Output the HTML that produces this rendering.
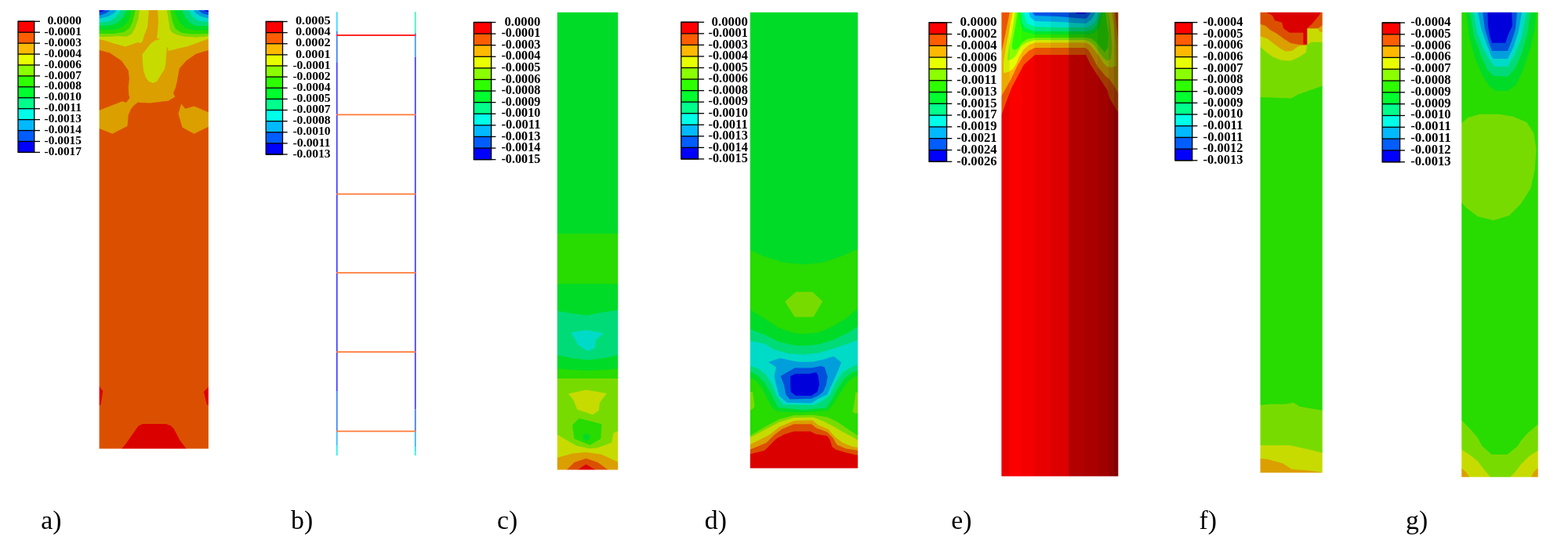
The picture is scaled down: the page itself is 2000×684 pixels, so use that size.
<!DOCTYPE html>
<html lang="en">
<head>
<meta charset="utf-8">
<title>Contour plots a) to g)</title>
<style>
html,body{margin:0;padding:0;background:#fff;}
body{width:2000px;height:684px;overflow:hidden;font-family:"Liberation Serif",serif;}
svg{display:block;}
</style>
</head>
<body>
<svg width="2000" height="684" viewBox="0 0 2000 684">
<rect x="0" y="0" width="2000" height="684" fill="#ffffff"/>
<g class="legend">
<rect x="23.00" y="27.30" width="20.75" height="13.93" fill="#ff0000"/>
<rect x="23.00" y="41.23" width="20.75" height="13.92" fill="#ff5d00"/>
<rect x="23.00" y="55.15" width="20.75" height="13.93" fill="#ffb900"/>
<rect x="23.00" y="69.08" width="20.75" height="13.92" fill="#e8ff00"/>
<rect x="23.00" y="83.00" width="20.75" height="13.92" fill="#8bff00"/>
<rect x="23.00" y="96.92" width="20.75" height="13.92" fill="#2eff00"/>
<rect x="23.00" y="110.85" width="20.75" height="13.92" fill="#00ff2e"/>
<rect x="23.00" y="124.77" width="20.75" height="13.92" fill="#00ff8b"/>
<rect x="23.00" y="138.70" width="20.75" height="13.93" fill="#00ffe8"/>
<rect x="23.00" y="152.62" width="20.75" height="13.93" fill="#00b9ff"/>
<rect x="23.00" y="166.55" width="20.75" height="13.92" fill="#005dff"/>
<rect x="23.00" y="180.47" width="20.75" height="13.93" fill="#0000ff"/>
<g stroke="#000" stroke-width="1.3" fill="none">
<rect x="23.00" y="27.30" width="20.75" height="167.10"/>
<line x1="23.00" y1="27.30" x2="51.00" y2="27.30"/>
<line x1="23.00" y1="41.23" x2="51.00" y2="41.23"/>
<line x1="23.00" y1="55.15" x2="51.00" y2="55.15"/>
<line x1="23.00" y1="69.08" x2="51.00" y2="69.08"/>
<line x1="23.00" y1="83.00" x2="51.00" y2="83.00"/>
<line x1="23.00" y1="96.92" x2="51.00" y2="96.92"/>
<line x1="23.00" y1="110.85" x2="51.00" y2="110.85"/>
<line x1="23.00" y1="124.77" x2="51.00" y2="124.77"/>
<line x1="23.00" y1="138.70" x2="51.00" y2="138.70"/>
<line x1="23.00" y1="152.62" x2="51.00" y2="152.62"/>
<line x1="23.00" y1="166.55" x2="51.00" y2="166.55"/>
<line x1="23.00" y1="180.47" x2="51.00" y2="180.47"/>
<line x1="23.00" y1="194.40" x2="51.00" y2="194.40"/>
</g>
<g font-family="'Liberation Serif', serif" font-weight="bold" font-size="15.30" text-anchor="end" fill="#000">
<text x="104.00" y="30.90" textLength="43.60" lengthAdjust="spacingAndGlyphs">0.0000</text>
<text x="104.00" y="44.83" textLength="47.40" lengthAdjust="spacingAndGlyphs">-0.0001</text>
<text x="104.00" y="58.75" textLength="47.40" lengthAdjust="spacingAndGlyphs">-0.0003</text>
<text x="104.00" y="72.67" textLength="47.40" lengthAdjust="spacingAndGlyphs">-0.0004</text>
<text x="104.00" y="86.60" textLength="47.40" lengthAdjust="spacingAndGlyphs">-0.0006</text>
<text x="104.00" y="100.52" textLength="47.40" lengthAdjust="spacingAndGlyphs">-0.0007</text>
<text x="104.00" y="114.45" textLength="47.40" lengthAdjust="spacingAndGlyphs">-0.0008</text>
<text x="104.00" y="128.38" textLength="47.40" lengthAdjust="spacingAndGlyphs">-0.0010</text>
<text x="104.00" y="142.30" textLength="47.40" lengthAdjust="spacingAndGlyphs">-0.0011</text>
<text x="104.00" y="156.22" textLength="47.40" lengthAdjust="spacingAndGlyphs">-0.0013</text>
<text x="104.00" y="170.15" textLength="47.40" lengthAdjust="spacingAndGlyphs">-0.0014</text>
<text x="104.00" y="184.07" textLength="47.40" lengthAdjust="spacingAndGlyphs">-0.0015</text>
<text x="104.00" y="198.00" textLength="47.40" lengthAdjust="spacingAndGlyphs">-0.0017</text>
</g></g>
<g class="legend">
<rect x="339.20" y="27.50" width="21.30" height="14.12" fill="#ff0000"/>
<rect x="339.20" y="41.62" width="21.30" height="14.12" fill="#ff5d00"/>
<rect x="339.20" y="55.75" width="21.30" height="14.12" fill="#ffb900"/>
<rect x="339.20" y="69.88" width="21.30" height="14.12" fill="#e8ff00"/>
<rect x="339.20" y="84.00" width="21.30" height="14.12" fill="#8bff00"/>
<rect x="339.20" y="98.12" width="21.30" height="14.12" fill="#2eff00"/>
<rect x="339.20" y="112.25" width="21.30" height="14.12" fill="#00ff2e"/>
<rect x="339.20" y="126.38" width="21.30" height="14.12" fill="#00ff8b"/>
<rect x="339.20" y="140.50" width="21.30" height="14.12" fill="#00ffe8"/>
<rect x="339.20" y="154.62" width="21.30" height="14.12" fill="#00b9ff"/>
<rect x="339.20" y="168.75" width="21.30" height="14.12" fill="#005dff"/>
<rect x="339.20" y="182.88" width="21.30" height="14.12" fill="#0000ff"/>
<g stroke="#000" stroke-width="1.3" fill="none">
<rect x="339.20" y="27.50" width="21.30" height="169.50"/>
<line x1="339.20" y1="27.50" x2="366.70" y2="27.50"/>
<line x1="339.20" y1="41.62" x2="366.70" y2="41.62"/>
<line x1="339.20" y1="55.75" x2="366.70" y2="55.75"/>
<line x1="339.20" y1="69.88" x2="366.70" y2="69.88"/>
<line x1="339.20" y1="84.00" x2="366.70" y2="84.00"/>
<line x1="339.20" y1="98.12" x2="366.70" y2="98.12"/>
<line x1="339.20" y1="112.25" x2="366.70" y2="112.25"/>
<line x1="339.20" y1="126.38" x2="366.70" y2="126.38"/>
<line x1="339.20" y1="140.50" x2="366.70" y2="140.50"/>
<line x1="339.20" y1="154.62" x2="366.70" y2="154.62"/>
<line x1="339.20" y1="168.75" x2="366.70" y2="168.75"/>
<line x1="339.20" y1="182.88" x2="366.70" y2="182.88"/>
<line x1="339.20" y1="197.00" x2="366.70" y2="197.00"/>
</g>
<g font-family="'Liberation Serif', serif" font-weight="bold" font-size="15.40" text-anchor="end" fill="#000">
<text x="421.60" y="31.20" textLength="44.60" lengthAdjust="spacingAndGlyphs">0.0005</text>
<text x="421.60" y="45.33" textLength="44.60" lengthAdjust="spacingAndGlyphs">0.0004</text>
<text x="421.60" y="59.45" textLength="44.60" lengthAdjust="spacingAndGlyphs">0.0002</text>
<text x="421.60" y="73.58" textLength="44.60" lengthAdjust="spacingAndGlyphs">0.0001</text>
<text x="421.60" y="87.70" textLength="48.20" lengthAdjust="spacingAndGlyphs">-0.0001</text>
<text x="421.60" y="101.83" textLength="48.20" lengthAdjust="spacingAndGlyphs">-0.0002</text>
<text x="421.60" y="115.95" textLength="48.20" lengthAdjust="spacingAndGlyphs">-0.0004</text>
<text x="421.60" y="130.07" textLength="48.20" lengthAdjust="spacingAndGlyphs">-0.0005</text>
<text x="421.60" y="144.20" textLength="48.20" lengthAdjust="spacingAndGlyphs">-0.0007</text>
<text x="421.60" y="158.32" textLength="48.20" lengthAdjust="spacingAndGlyphs">-0.0008</text>
<text x="421.60" y="172.45" textLength="48.20" lengthAdjust="spacingAndGlyphs">-0.0010</text>
<text x="421.60" y="186.57" textLength="48.20" lengthAdjust="spacingAndGlyphs">-0.0011</text>
<text x="421.60" y="200.70" textLength="48.20" lengthAdjust="spacingAndGlyphs">-0.0013</text>
</g></g>
<g class="legend">
<rect x="604.30" y="28.50" width="22.30" height="14.59" fill="#ff0000"/>
<rect x="604.30" y="43.09" width="22.30" height="14.59" fill="#ff5d00"/>
<rect x="604.30" y="57.68" width="22.30" height="14.59" fill="#ffb900"/>
<rect x="604.30" y="72.28" width="22.30" height="14.59" fill="#e8ff00"/>
<rect x="604.30" y="86.87" width="22.30" height="14.59" fill="#8bff00"/>
<rect x="604.30" y="101.46" width="22.30" height="14.59" fill="#2eff00"/>
<rect x="604.30" y="116.05" width="22.30" height="14.59" fill="#00ff2e"/>
<rect x="604.30" y="130.64" width="22.30" height="14.59" fill="#00ff8b"/>
<rect x="604.30" y="145.23" width="22.30" height="14.59" fill="#00ffe8"/>
<rect x="604.30" y="159.82" width="22.30" height="14.59" fill="#00b9ff"/>
<rect x="604.30" y="174.42" width="22.30" height="14.59" fill="#005dff"/>
<rect x="604.30" y="189.01" width="22.30" height="14.59" fill="#0000ff"/>
<g stroke="#000" stroke-width="1.3" fill="none">
<rect x="604.30" y="28.50" width="22.30" height="175.10"/>
<line x1="604.30" y1="28.50" x2="632.40" y2="28.50"/>
<line x1="604.30" y1="43.09" x2="632.40" y2="43.09"/>
<line x1="604.30" y1="57.68" x2="632.40" y2="57.68"/>
<line x1="604.30" y1="72.28" x2="632.40" y2="72.28"/>
<line x1="604.30" y1="86.87" x2="632.40" y2="86.87"/>
<line x1="604.30" y1="101.46" x2="632.40" y2="101.46"/>
<line x1="604.30" y1="116.05" x2="632.40" y2="116.05"/>
<line x1="604.30" y1="130.64" x2="632.40" y2="130.64"/>
<line x1="604.30" y1="145.23" x2="632.40" y2="145.23"/>
<line x1="604.30" y1="159.82" x2="632.40" y2="159.82"/>
<line x1="604.30" y1="174.42" x2="632.40" y2="174.42"/>
<line x1="604.30" y1="189.01" x2="632.40" y2="189.01"/>
<line x1="604.30" y1="203.60" x2="632.40" y2="203.60"/>
</g>
<g font-family="'Liberation Serif', serif" font-weight="bold" font-size="15.70" text-anchor="end" fill="#000">
<text x="689.40" y="32.70" textLength="46.00" lengthAdjust="spacingAndGlyphs">0.0000</text>
<text x="689.40" y="47.29" textLength="50.00" lengthAdjust="spacingAndGlyphs">-0.0001</text>
<text x="689.40" y="61.88" textLength="50.00" lengthAdjust="spacingAndGlyphs">-0.0003</text>
<text x="689.40" y="76.48" textLength="50.00" lengthAdjust="spacingAndGlyphs">-0.0004</text>
<text x="689.40" y="91.07" textLength="50.00" lengthAdjust="spacingAndGlyphs">-0.0005</text>
<text x="689.40" y="105.66" textLength="50.00" lengthAdjust="spacingAndGlyphs">-0.0006</text>
<text x="689.40" y="120.25" textLength="50.00" lengthAdjust="spacingAndGlyphs">-0.0008</text>
<text x="689.40" y="134.84" textLength="50.00" lengthAdjust="spacingAndGlyphs">-0.0009</text>
<text x="689.40" y="149.43" textLength="50.00" lengthAdjust="spacingAndGlyphs">-0.0010</text>
<text x="689.40" y="164.02" textLength="50.00" lengthAdjust="spacingAndGlyphs">-0.0011</text>
<text x="689.40" y="178.62" textLength="50.00" lengthAdjust="spacingAndGlyphs">-0.0013</text>
<text x="689.40" y="193.21" textLength="50.00" lengthAdjust="spacingAndGlyphs">-0.0014</text>
<text x="689.40" y="207.80" textLength="50.00" lengthAdjust="spacingAndGlyphs">-0.0015</text>
</g></g>
<g class="legend">
<rect x="868.80" y="28.30" width="21.70" height="14.55" fill="#ff0000"/>
<rect x="868.80" y="42.85" width="21.70" height="14.55" fill="#ff5d00"/>
<rect x="868.80" y="57.40" width="21.70" height="14.55" fill="#ffb900"/>
<rect x="868.80" y="71.95" width="21.70" height="14.55" fill="#e8ff00"/>
<rect x="868.80" y="86.50" width="21.70" height="14.55" fill="#8bff00"/>
<rect x="868.80" y="101.05" width="21.70" height="14.55" fill="#2eff00"/>
<rect x="868.80" y="115.60" width="21.70" height="14.55" fill="#00ff2e"/>
<rect x="868.80" y="130.15" width="21.70" height="14.55" fill="#00ff8b"/>
<rect x="868.80" y="144.70" width="21.70" height="14.55" fill="#00ffe8"/>
<rect x="868.80" y="159.25" width="21.70" height="14.55" fill="#00b9ff"/>
<rect x="868.80" y="173.80" width="21.70" height="14.55" fill="#005dff"/>
<rect x="868.80" y="188.35" width="21.70" height="14.55" fill="#0000ff"/>
<g stroke="#000" stroke-width="1.3" fill="none">
<rect x="868.80" y="28.30" width="21.70" height="174.60"/>
<line x1="868.80" y1="28.30" x2="898.10" y2="28.30"/>
<line x1="868.80" y1="42.85" x2="898.10" y2="42.85"/>
<line x1="868.80" y1="57.40" x2="898.10" y2="57.40"/>
<line x1="868.80" y1="71.95" x2="898.10" y2="71.95"/>
<line x1="868.80" y1="86.50" x2="898.10" y2="86.50"/>
<line x1="868.80" y1="101.05" x2="898.10" y2="101.05"/>
<line x1="868.80" y1="115.60" x2="898.10" y2="115.60"/>
<line x1="868.80" y1="130.15" x2="898.10" y2="130.15"/>
<line x1="868.80" y1="144.70" x2="898.10" y2="144.70"/>
<line x1="868.80" y1="159.25" x2="898.10" y2="159.25"/>
<line x1="868.80" y1="173.80" x2="898.10" y2="173.80"/>
<line x1="868.80" y1="188.35" x2="898.10" y2="188.35"/>
<line x1="868.80" y1="202.90" x2="898.10" y2="202.90"/>
</g>
<g font-family="'Liberation Serif', serif" font-weight="bold" font-size="15.70" text-anchor="end" fill="#000">
<text x="953.80" y="32.60" textLength="46.30" lengthAdjust="spacingAndGlyphs">0.0000</text>
<text x="953.80" y="47.15" textLength="50.30" lengthAdjust="spacingAndGlyphs">-0.0001</text>
<text x="953.80" y="61.70" textLength="50.30" lengthAdjust="spacingAndGlyphs">-0.0003</text>
<text x="953.80" y="76.25" textLength="50.30" lengthAdjust="spacingAndGlyphs">-0.0004</text>
<text x="953.80" y="90.80" textLength="50.30" lengthAdjust="spacingAndGlyphs">-0.0005</text>
<text x="953.80" y="105.35" textLength="50.30" lengthAdjust="spacingAndGlyphs">-0.0006</text>
<text x="953.80" y="119.90" textLength="50.30" lengthAdjust="spacingAndGlyphs">-0.0008</text>
<text x="953.80" y="134.45" textLength="50.30" lengthAdjust="spacingAndGlyphs">-0.0009</text>
<text x="953.80" y="149.00" textLength="50.30" lengthAdjust="spacingAndGlyphs">-0.0010</text>
<text x="953.80" y="163.55" textLength="50.30" lengthAdjust="spacingAndGlyphs">-0.0011</text>
<text x="953.80" y="178.10" textLength="50.30" lengthAdjust="spacingAndGlyphs">-0.0013</text>
<text x="953.80" y="192.65" textLength="50.30" lengthAdjust="spacingAndGlyphs">-0.0014</text>
<text x="953.80" y="207.20" textLength="50.30" lengthAdjust="spacingAndGlyphs">-0.0015</text>
</g></g>
<g class="legend">
<rect x="1185.00" y="28.75" width="22.60" height="14.79" fill="#ff0000"/>
<rect x="1185.00" y="43.54" width="22.60" height="14.79" fill="#ff5d00"/>
<rect x="1185.00" y="58.33" width="22.60" height="14.79" fill="#ffb900"/>
<rect x="1185.00" y="73.12" width="22.60" height="14.79" fill="#e8ff00"/>
<rect x="1185.00" y="87.92" width="22.60" height="14.79" fill="#8bff00"/>
<rect x="1185.00" y="102.71" width="22.60" height="14.79" fill="#2eff00"/>
<rect x="1185.00" y="117.50" width="22.60" height="14.79" fill="#00ff2e"/>
<rect x="1185.00" y="132.29" width="22.60" height="14.79" fill="#00ff8b"/>
<rect x="1185.00" y="147.08" width="22.60" height="14.79" fill="#00ffe8"/>
<rect x="1185.00" y="161.88" width="22.60" height="14.79" fill="#00b9ff"/>
<rect x="1185.00" y="176.67" width="22.60" height="14.79" fill="#005dff"/>
<rect x="1185.00" y="191.46" width="22.60" height="14.79" fill="#0000ff"/>
<g stroke="#000" stroke-width="1.3" fill="none">
<rect x="1185.00" y="28.75" width="22.60" height="177.50"/>
<line x1="1185.00" y1="28.75" x2="1214.30" y2="28.75"/>
<line x1="1185.00" y1="43.54" x2="1214.30" y2="43.54"/>
<line x1="1185.00" y1="58.33" x2="1214.30" y2="58.33"/>
<line x1="1185.00" y1="73.12" x2="1214.30" y2="73.12"/>
<line x1="1185.00" y1="87.92" x2="1214.30" y2="87.92"/>
<line x1="1185.00" y1="102.71" x2="1214.30" y2="102.71"/>
<line x1="1185.00" y1="117.50" x2="1214.30" y2="117.50"/>
<line x1="1185.00" y1="132.29" x2="1214.30" y2="132.29"/>
<line x1="1185.00" y1="147.08" x2="1214.30" y2="147.08"/>
<line x1="1185.00" y1="161.88" x2="1214.30" y2="161.88"/>
<line x1="1185.00" y1="176.67" x2="1214.30" y2="176.67"/>
<line x1="1185.00" y1="191.46" x2="1214.30" y2="191.46"/>
<line x1="1185.00" y1="206.25" x2="1214.30" y2="206.25"/>
</g>
<g font-family="'Liberation Serif', serif" font-weight="bold" font-size="15.80" text-anchor="end" fill="#000">
<text x="1271.60" y="33.15" textLength="47.00" lengthAdjust="spacingAndGlyphs">0.0000</text>
<text x="1271.60" y="47.94" textLength="51.30" lengthAdjust="spacingAndGlyphs">-0.0002</text>
<text x="1271.60" y="62.73" textLength="51.30" lengthAdjust="spacingAndGlyphs">-0.0004</text>
<text x="1271.60" y="77.53" textLength="51.30" lengthAdjust="spacingAndGlyphs">-0.0006</text>
<text x="1271.60" y="92.32" textLength="51.30" lengthAdjust="spacingAndGlyphs">-0.0009</text>
<text x="1271.60" y="107.11" textLength="51.30" lengthAdjust="spacingAndGlyphs">-0.0011</text>
<text x="1271.60" y="121.90" textLength="51.30" lengthAdjust="spacingAndGlyphs">-0.0013</text>
<text x="1271.60" y="136.69" textLength="51.30" lengthAdjust="spacingAndGlyphs">-0.0015</text>
<text x="1271.60" y="151.48" textLength="51.30" lengthAdjust="spacingAndGlyphs">-0.0017</text>
<text x="1271.60" y="166.28" textLength="51.30" lengthAdjust="spacingAndGlyphs">-0.0019</text>
<text x="1271.60" y="181.07" textLength="51.30" lengthAdjust="spacingAndGlyphs">-0.0021</text>
<text x="1271.60" y="195.86" textLength="51.30" lengthAdjust="spacingAndGlyphs">-0.0024</text>
<text x="1271.60" y="210.65" textLength="51.30" lengthAdjust="spacingAndGlyphs">-0.0026</text>
</g></g>
<g class="legend">
<rect x="1498.80" y="28.60" width="21.90" height="14.68" fill="#ff0000"/>
<rect x="1498.80" y="43.28" width="21.90" height="14.68" fill="#ff5d00"/>
<rect x="1498.80" y="57.96" width="21.90" height="14.68" fill="#ffb900"/>
<rect x="1498.80" y="72.64" width="21.90" height="14.68" fill="#e8ff00"/>
<rect x="1498.80" y="87.32" width="21.90" height="14.68" fill="#8bff00"/>
<rect x="1498.80" y="102.00" width="21.90" height="14.68" fill="#2eff00"/>
<rect x="1498.80" y="116.68" width="21.90" height="14.68" fill="#00ff2e"/>
<rect x="1498.80" y="131.35" width="21.90" height="14.68" fill="#00ff8b"/>
<rect x="1498.80" y="146.03" width="21.90" height="14.68" fill="#00ffe8"/>
<rect x="1498.80" y="160.71" width="21.90" height="14.68" fill="#00b9ff"/>
<rect x="1498.80" y="175.39" width="21.90" height="14.68" fill="#005dff"/>
<rect x="1498.80" y="190.07" width="21.90" height="14.68" fill="#0000ff"/>
<g stroke="#000" stroke-width="1.3" fill="none">
<rect x="1498.80" y="28.60" width="21.90" height="176.15"/>
<line x1="1498.80" y1="28.60" x2="1527.40" y2="28.60"/>
<line x1="1498.80" y1="43.28" x2="1527.40" y2="43.28"/>
<line x1="1498.80" y1="57.96" x2="1527.40" y2="57.96"/>
<line x1="1498.80" y1="72.64" x2="1527.40" y2="72.64"/>
<line x1="1498.80" y1="87.32" x2="1527.40" y2="87.32"/>
<line x1="1498.80" y1="102.00" x2="1527.40" y2="102.00"/>
<line x1="1498.80" y1="116.68" x2="1527.40" y2="116.68"/>
<line x1="1498.80" y1="131.35" x2="1527.40" y2="131.35"/>
<line x1="1498.80" y1="146.03" x2="1527.40" y2="146.03"/>
<line x1="1498.80" y1="160.71" x2="1527.40" y2="160.71"/>
<line x1="1498.80" y1="175.39" x2="1527.40" y2="175.39"/>
<line x1="1498.80" y1="190.07" x2="1527.40" y2="190.07"/>
<line x1="1498.80" y1="204.75" x2="1527.40" y2="204.75"/>
</g>
<g font-family="'Liberation Serif', serif" font-weight="bold" font-size="15.70" text-anchor="end" fill="#000">
<text x="1585.40" y="33.00" textLength="50.80" lengthAdjust="spacingAndGlyphs">-0.0004</text>
<text x="1585.40" y="47.68" textLength="50.80" lengthAdjust="spacingAndGlyphs">-0.0005</text>
<text x="1585.40" y="62.36" textLength="50.80" lengthAdjust="spacingAndGlyphs">-0.0006</text>
<text x="1585.40" y="77.04" textLength="50.80" lengthAdjust="spacingAndGlyphs">-0.0006</text>
<text x="1585.40" y="91.72" textLength="50.80" lengthAdjust="spacingAndGlyphs">-0.0007</text>
<text x="1585.40" y="106.40" textLength="50.80" lengthAdjust="spacingAndGlyphs">-0.0008</text>
<text x="1585.40" y="121.08" textLength="50.80" lengthAdjust="spacingAndGlyphs">-0.0009</text>
<text x="1585.40" y="135.75" textLength="50.80" lengthAdjust="spacingAndGlyphs">-0.0009</text>
<text x="1585.40" y="150.43" textLength="50.80" lengthAdjust="spacingAndGlyphs">-0.0010</text>
<text x="1585.40" y="165.11" textLength="50.80" lengthAdjust="spacingAndGlyphs">-0.0011</text>
<text x="1585.40" y="179.79" textLength="50.80" lengthAdjust="spacingAndGlyphs">-0.0011</text>
<text x="1585.40" y="194.47" textLength="50.80" lengthAdjust="spacingAndGlyphs">-0.0012</text>
<text x="1585.40" y="209.15" textLength="50.80" lengthAdjust="spacingAndGlyphs">-0.0013</text>
</g></g>
<g class="legend">
<rect x="1763.10" y="29.00" width="22.50" height="14.81" fill="#ff0000"/>
<rect x="1763.10" y="43.81" width="22.50" height="14.81" fill="#ff5d00"/>
<rect x="1763.10" y="58.62" width="22.50" height="14.81" fill="#ffb900"/>
<rect x="1763.10" y="73.42" width="22.50" height="14.81" fill="#e8ff00"/>
<rect x="1763.10" y="88.23" width="22.50" height="14.81" fill="#8bff00"/>
<rect x="1763.10" y="103.04" width="22.50" height="14.81" fill="#2eff00"/>
<rect x="1763.10" y="117.85" width="22.50" height="14.81" fill="#00ff2e"/>
<rect x="1763.10" y="132.66" width="22.50" height="14.81" fill="#00ff8b"/>
<rect x="1763.10" y="147.47" width="22.50" height="14.81" fill="#00ffe8"/>
<rect x="1763.10" y="162.27" width="22.50" height="14.81" fill="#00b9ff"/>
<rect x="1763.10" y="177.08" width="22.50" height="14.81" fill="#005dff"/>
<rect x="1763.10" y="191.89" width="22.50" height="14.81" fill="#0000ff"/>
<g stroke="#000" stroke-width="1.3" fill="none">
<rect x="1763.10" y="29.00" width="22.50" height="177.70"/>
<line x1="1763.10" y1="29.00" x2="1792.00" y2="29.00"/>
<line x1="1763.10" y1="43.81" x2="1792.00" y2="43.81"/>
<line x1="1763.10" y1="58.62" x2="1792.00" y2="58.62"/>
<line x1="1763.10" y1="73.42" x2="1792.00" y2="73.42"/>
<line x1="1763.10" y1="88.23" x2="1792.00" y2="88.23"/>
<line x1="1763.10" y1="103.04" x2="1792.00" y2="103.04"/>
<line x1="1763.10" y1="117.85" x2="1792.00" y2="117.85"/>
<line x1="1763.10" y1="132.66" x2="1792.00" y2="132.66"/>
<line x1="1763.10" y1="147.47" x2="1792.00" y2="147.47"/>
<line x1="1763.10" y1="162.27" x2="1792.00" y2="162.27"/>
<line x1="1763.10" y1="177.08" x2="1792.00" y2="177.08"/>
<line x1="1763.10" y1="191.89" x2="1792.00" y2="191.89"/>
<line x1="1763.10" y1="206.70" x2="1792.00" y2="206.70"/>
</g>
<g font-family="'Liberation Serif', serif" font-weight="bold" font-size="15.80" text-anchor="end" fill="#000">
<text x="1850.70" y="33.00" textLength="51.50" lengthAdjust="spacingAndGlyphs">-0.0004</text>
<text x="1850.70" y="47.81" textLength="51.50" lengthAdjust="spacingAndGlyphs">-0.0005</text>
<text x="1850.70" y="62.62" textLength="51.50" lengthAdjust="spacingAndGlyphs">-0.0006</text>
<text x="1850.70" y="77.42" textLength="51.50" lengthAdjust="spacingAndGlyphs">-0.0006</text>
<text x="1850.70" y="92.23" textLength="51.50" lengthAdjust="spacingAndGlyphs">-0.0007</text>
<text x="1850.70" y="107.04" textLength="51.50" lengthAdjust="spacingAndGlyphs">-0.0008</text>
<text x="1850.70" y="121.85" textLength="51.50" lengthAdjust="spacingAndGlyphs">-0.0009</text>
<text x="1850.70" y="136.66" textLength="51.50" lengthAdjust="spacingAndGlyphs">-0.0009</text>
<text x="1850.70" y="151.47" textLength="51.50" lengthAdjust="spacingAndGlyphs">-0.0010</text>
<text x="1850.70" y="166.27" textLength="51.50" lengthAdjust="spacingAndGlyphs">-0.0011</text>
<text x="1850.70" y="181.08" textLength="51.50" lengthAdjust="spacingAndGlyphs">-0.0011</text>
<text x="1850.70" y="195.89" textLength="51.50" lengthAdjust="spacingAndGlyphs">-0.0012</text>
<text x="1850.70" y="210.70" textLength="51.50" lengthAdjust="spacingAndGlyphs">-0.0013</text>
</g></g>
<g font-family="'Liberation Serif', serif" font-size="33.8" fill="#000">
<text x="52.30" y="675">a)</text>
<text x="371.00" y="675">b)</text>
<text x="634.00" y="675">c)</text>
<text x="898.80" y="675">d)</text>
<text x="1213.30" y="675">e)</text>
<text x="1529.50" y="675">f)</text>
<text x="1793.00" y="675">g)</text>
</g>
<g id="pa"><clipPath id="ca"><rect x="126" y="12" width="140" height="561"/></clipPath><g clip-path="url(#ca)">
<rect x="123.60" y="9.90" width="145.30" height="565.70" fill="#db5000"/>
<polygon fill="#db9f00" points="126.00,12.00 267.00,12.00 267.00,63.75 250.00,68.75 237.50,77.50 228.75,87.50 226.00,103.00 224.00,111.70 221.00,118.70 223.40,123.40 214.60,128.70 205.30,129.80 191.20,131.60 179.50,131.00 176.00,130.60 170.20,135.10 166.70,139.80 163.70,146.80 162.60,160.80 143.30,170.80 126.00,163.70 126.00,141.00 156.10,129.20 160.80,131.00 165.50,125.10 164.30,121.00 163.70,111.70 164.90,100.00 163.75,90.00 155.00,77.50 140.00,67.50 126.00,63.75"/>
<polygon fill="#db9f00" points="231.25,132.50 236.25,138.75 247.50,135.50 267.00,143.75 267.00,161.25 247.50,170.75 232.50,162.50 227.50,145.00"/>
<polygon fill="#c7db00" points="178.00,12.00 190.00,12.00 188.00,35.00 184.00,45.00 182.00,52.00 180.00,55.00 176.00,54.00 170.00,56.00 160.00,59.50 145.00,55.50 135.00,52.00 126.00,50.00 126.00,47.00 140.00,46.50 150.00,46.00 162.00,46.50 168.00,43.00 172.00,36.00 176.00,25.00"/>
<polygon fill="#c7db00" points="201.00,12.00 213.00,12.00 215.00,25.00 217.00,38.00 220.00,41.50 225.00,44.00 235.00,46.50 250.00,47.50 267.00,46.00 267.00,49.50 256.00,53.00 240.00,59.00 225.00,62.50 215.00,65.00 214.00,61.00 213.00,60.00 212.00,70.00 211.50,80.00 210.00,88.00 205.00,96.00 200.00,104.00 195.00,106.00 190.00,104.00 186.00,99.00 183.00,90.00 182.00,80.00 181.50,69.00 185.00,65.00 192.00,56.00 197.00,52.00 205.00,49.50 200.00,49.00 201.00,40.00 202.00,28.00"/>
<polygon fill="#78db00" points="126.00,12.00 178.00,12.00 176.00,25.00 172.00,36.00 168.00,43.00 162.00,46.50 150.00,46.00 140.00,46.50 126.00,47.00"/>
<polygon fill="#28db00" points="126.00,12.00 173.00,12.00 169.00,28.00 165.00,36.00 158.00,41.00 145.00,43.00 126.00,43.00"/>
<polygon fill="#00db28" points="126.00,12.00 168.00,12.00 166.00,20.00 162.00,29.00 155.00,35.00 145.00,38.00 126.00,38.50"/>
<polygon fill="#00db78" points="126.00,12.00 162.00,12.00 157.00,22.00 150.00,29.00 140.00,32.50 126.00,33.00"/>
<polygon fill="#00dbc7" points="126.00,12.00 155.00,12.00 148.00,22.00 140.00,27.00 126.00,29.00"/>
<polygon fill="#009fdb" points="126.00,12.00 150.00,12.00 145.00,17.00 138.00,21.00 126.00,24.00"/>
<polygon fill="#0050db" points="126.00,12.00 142.00,12.00 135.00,17.00 126.00,20.00"/>
<polygon fill="#0000db" points="126.00,12.00 135.00,12.00 132.00,14.00 126.00,16.00"/>
<polygon fill="#78db00" points="267.00,12.00 213.00,12.00 215.00,25.00 217.00,38.00 220.00,41.50 225.00,44.00 235.00,46.50 250.00,47.50 267.00,46.00"/>
<polygon fill="#28db00" points="267.00,12.00 217.00,12.00 220.00,28.00 224.00,37.00 232.00,42.00 245.00,43.50 267.00,43.00"/>
<polygon fill="#00db28" points="267.00,12.00 222.00,12.00 225.00,20.00 230.00,30.00 237.00,36.00 248.00,38.50 267.00,38.50"/>
<polygon fill="#00db78" points="267.00,12.00 232.00,12.00 236.00,22.00 242.00,29.00 250.00,33.00 267.00,33.00"/>
<polygon fill="#00dbc7" points="267.00,12.00 240.00,12.00 246.00,22.00 254.00,27.00 267.00,28.00"/>
<polygon fill="#009fdb" points="267.00,12.00 246.00,12.00 250.00,17.00 256.00,21.00 267.00,23.50"/>
<polygon fill="#0050db" points="267.00,12.00 252.00,12.00 258.00,17.00 267.00,19.50"/>
<polygon fill="#0000db" points="267.00,12.00 258.00,12.00 262.00,14.00 267.00,16.00"/>
<polygon fill="#db0000" points="155.00,573.00 160.00,567.00 176.50,543.50 182.00,541.00 211.80,540.90 218.10,543.60 221.70,547.20 229.80,562.50 238.00,573.00"/>
<polygon fill="#db0000" points="126.00,492.50 131.25,498.75 128.75,516.25 126.00,517.50"/>
<polygon fill="#db0000" points="267.00,492.50 260.00,500.00 263.75,516.25 267.00,517.50"/>
</g>
<g fill="#fff">
<rect x="125" y="11" width="1.60" height="563"/>
<rect x="265.90" y="11" width="1.10" height="563"/>
<rect x="125" y="11" width="142" height="1.90"/>
<rect x="125" y="572.60" width="142" height="1.40"/>
</g></g>
<g id="pb" fill="none" stroke-width="1.7">
<line x1="429.75" y1="15.20" x2="429.75" y2="40.00" stroke="#38d8ff"/>
<line x1="429.75" y1="40.00" x2="429.75" y2="80.00" stroke="#3a7cff"/>
<line x1="429.75" y1="80.00" x2="429.75" y2="499.00" stroke="#3a3aff"/>
<line x1="429.75" y1="499.00" x2="429.75" y2="550.30" stroke="#3a80ff"/>
<line x1="429.75" y1="550.30" x2="429.75" y2="568.00" stroke="#38b8ff"/>
<line x1="429.75" y1="568.00" x2="429.75" y2="581.30" stroke="#20f0f0"/>
<line x1="529.75" y1="15.20" x2="529.75" y2="42.00" stroke="#30ffb8"/>
<line x1="529.75" y1="42.00" x2="529.75" y2="72.50" stroke="#3a98ff"/>
<line x1="529.75" y1="72.50" x2="529.75" y2="522.50" stroke="#3a3aff"/>
<line x1="529.75" y1="522.50" x2="529.75" y2="550.30" stroke="#3a78ff"/>
<line x1="529.75" y1="550.30" x2="529.75" y2="570.00" stroke="#30b0ff"/>
<line x1="529.75" y1="570.00" x2="529.75" y2="576.00" stroke="#20e0ff"/>
<line x1="529.75" y1="576.00" x2="529.75" y2="581.30" stroke="#20ffd0"/>
<line x1="429" y1="45.00" x2="530.5" y2="45.00" stroke="#ff2a2a" stroke-width="1.8"/>
<line x1="429" y1="146.30" x2="530.5" y2="146.30" stroke="#ff7a3a" stroke-width="1.8"/>
<line x1="429" y1="247.60" x2="530.5" y2="247.60" stroke="#ff7a3a" stroke-width="1.8"/>
<line x1="429" y1="348.10" x2="530.5" y2="348.10" stroke="#ff7a3a" stroke-width="1.8"/>
<line x1="429" y1="449.10" x2="530.5" y2="449.10" stroke="#ff7a3a" stroke-width="1.8"/>
<line x1="429" y1="550.30" x2="530.5" y2="550.30" stroke="#ff7a3a" stroke-width="1.8"/>
</g>
<g id="pc"><clipPath id="cc"><rect x="710" y="15" width="79" height="585"/></clipPath><g clip-path="url(#cc)">
<rect x="707.75" y="12.75" width="83.50" height="589.75" fill="#00db28"/>
<rect x="707.75" y="298.25" width="83.50" height="64.25" fill="#28db00"/>
<rect x="707.75" y="362.50" width="83.50" height="97.50" fill="#00db28"/>
<polygon fill="#00db78" points="707.50,396.25 730.00,400.00 748.75,402.50 767.50,398.75 791.50,395.00 791.50,452.50 770.00,457.00 750.00,459.50 730.00,457.00 707.50,452.50"/>
<polygon fill="#00dbc7" points="728.75,424.25 747.50,421.25 770.00,425.00 760.00,433.75 758.75,443.75 750.00,448.00 737.50,440.50"/>
<polygon fill="#28db00" points="707.50,470.00 730.00,472.00 750.00,473.00 770.00,472.00 791.50,470.00 791.50,600.00 707.50,600.00"/>
<polygon fill="#78db00" points="707.50,483.00 791.50,483.00 791.50,600.00 707.50,600.00"/>
<polygon fill="#c7db00" points="707.50,552.50 720.00,560.00 735.00,568.75 752.50,572.50 762.50,571.25 780.00,565.00 782.50,552.50 791.50,548.75 791.50,600.00 707.50,600.00"/>
<polygon fill="#c7db00" points="725.00,502.50 747.50,497.50 773.75,502.00 765.00,513.75 763.75,523.75 756.25,529.25 736.25,522.50 731.25,510.00"/>
<polygon fill="#28db00" points="738.75,533.75 767.50,541.25 766.25,560.00 752.50,568.00 732.50,560.00 730.00,542.50"/>
<polygon fill="#00db28" points="745.00,553.75 751.25,553.75 752.50,560.00 747.50,562.50 743.75,559.50"/>
<polygon fill="#db9f00" points="707.50,585.00 730.00,578.75 747.50,577.00 767.50,580.00 791.50,591.25 791.50,600.00 707.50,600.00"/>
<polygon fill="#db5000" points="722.50,600.00 732.50,590.00 747.50,585.00 762.50,590.00 776.25,600.00"/>
<polygon fill="#db0000" points="736.25,600.00 747.50,592.50 760.00,600.00"/>
</g>
<g fill="#fff">
<rect x="709" y="14" width="1.75" height="587"/>
<rect x="788.25" y="14" width="1.75" height="587"/>
<rect x="709" y="14" width="81" height="1.75"/>
<rect x="709" y="599.50" width="81" height="1.50"/>
</g></g>
<g id="pd"><clipPath id="cd"><rect x="956" y="15" width="139" height="583"/></clipPath><g clip-path="url(#cd)">
<rect x="953.80" y="12.75" width="143.40" height="587.75" fill="#00db28"/>
<polygon fill="#28db00" points="956.00,318.75 975.00,327.50 1000.00,335.00 1025.00,337.50 1050.00,335.00 1075.00,326.25 1095.00,317.50 1095.00,470.00 956.00,470.00"/>
<polygon fill="#78db00" points="1001.25,385.00 1015.00,372.50 1036.25,372.50 1049.25,384.50 1037.50,404.50 1013.75,404.50"/>
<polygon fill="#00db28" points="956.25,395.00 975.00,406.25 993.75,418.75 1012.50,425.00 1025.00,426.25 1043.75,424.38 1062.50,416.25 1081.25,405.00 1095.00,392.50 1095.00,595.00 956.25,595.00"/>
<polygon fill="#00db78" points="956.25,420.00 975.00,426.88 993.75,436.25 1012.50,440.62 1025.00,441.25 1043.75,439.38 1062.50,433.75 1081.25,425.00 1095.00,416.25 1095.00,550.00 956.25,550.00"/>
<polygon fill="#00dbc7" points="956.25,435.00 975.00,438.75 987.50,446.25 1006.25,451.25 1025.00,452.50 1043.75,450.62 1062.50,445.00 1081.25,438.75 1095.00,433.75 1095.00,550.00 956.25,550.00"/>
<polygon fill="#00db78" points="956.25,466.25 968.75,471.25 977.50,478.75 985.00,491.25 990.00,503.75 998.75,516.25 1037.50,516.88 1047.50,512.50 1058.75,503.75 1066.25,487.50 1075.00,475.00 1085.00,468.75 1095.00,465.00 1095.00,600.00 956.25,600.00"/>
<polygon fill="#00db28" points="956.25,473.75 966.25,478.75 975.00,487.50 982.50,500.00 987.50,510.00 992.50,520.00 1025.00,523.12 1053.75,520.62 1061.25,508.75 1068.75,495.00 1077.50,482.50 1087.50,475.00 1095.00,472.50 1095.00,600.00 956.25,600.00"/>
<polygon fill="#28db00" points="956.25,481.25 965.00,486.25 972.50,496.25 978.75,508.75 985.00,520.00 991.25,525.00 1025.00,526.25 1056.25,523.75 1065.00,512.50 1072.50,500.00 1080.00,488.75 1088.75,481.25 1095.00,478.75 1095.00,600.00 956.25,600.00"/>
<polygon fill="#78db00" points="956.25,500.00 960.00,500.00 961.50,510.00 962.50,518.75 959.38,522.50 956.25,523.75"/>
<polygon fill="#78db00" points="1095.00,500.00 1091.25,501.25 1090.00,512.50 1087.50,525.00 1090.00,527.50 1095.00,527.50"/>
<polygon fill="#009fdb" points="980.00,461.88 995.00,457.12 1016.25,461.50 1025.00,462.12 1037.50,461.50 1050.00,458.75 1063.75,454.75 1073.12,462.50 1068.75,473.75 1062.50,487.50 1055.00,503.75 1043.75,508.75 1035.00,514.38 1003.75,513.75 993.75,505.00 990.00,491.25 987.50,480.00 990.00,468.75"/>
<polygon fill="#0050db" points="995.62,480.00 1013.75,469.38 1035.00,469.38 1047.50,466.88 1051.88,468.75 1055.62,480.62 1053.75,491.25 1050.00,500.00 1043.75,505.00 1035.00,508.75 1007.50,509.38 1002.50,503.75 1000.00,491.25"/>
<polygon fill="#0000db" points="1008.12,480.00 1015.00,476.88 1032.50,476.88 1041.25,475.00 1043.75,480.00 1045.00,491.25 1042.50,500.00 1035.00,505.00 1015.00,505.00 1008.75,500.00 1008.12,491.25"/>
<polygon fill="#78db00" points="956.25,556.25 975.00,545.00 993.75,535.00 1012.50,530.00 1037.50,529.38 1056.25,532.50 1068.75,538.75 1081.25,547.50 1095.00,556.25 1095.00,607.50 956.25,607.50"/>
<polygon fill="#c7db00" points="956.25,558.75 975.00,548.75 993.75,538.75 1012.50,533.12 1037.50,532.50 1050.00,537.50 1062.50,543.75 1075.00,551.25 1087.50,557.50 1095.00,562.50 1095.00,607.50 956.25,607.50"/>
<polygon fill="#db9f00" points="956.25,567.50 968.75,561.25 981.25,555.00 993.75,545.00 1012.50,536.88 1036.25,536.25 1043.75,542.50 1056.25,547.50 1065.00,557.50 1075.00,565.00 1087.50,570.00 1095.00,571.25 1095.00,607.50 956.25,607.50"/>
<polygon fill="#db5000" points="956.25,573.75 968.75,568.75 977.50,565.00 987.50,555.00 997.50,547.50 1012.50,541.25 1035.00,541.25 1041.25,546.25 1055.00,551.25 1062.50,558.75 1067.50,567.50 1078.75,572.50 1095.00,575.00 1095.00,607.50 956.25,607.50"/>
<polygon fill="#db0000" points="956.25,579.38 975.00,575.00 981.25,568.75 990.00,560.00 1000.00,554.38 1012.50,550.62 1033.75,550.62 1040.00,553.75 1055.00,556.25 1058.75,561.25 1061.25,570.00 1066.25,573.75 1078.75,577.50 1095.00,581.25 1095.00,607.50 956.25,607.50"/>
</g>
<g fill="#fff">
<rect x="955" y="14" width="1.80" height="585"/>
<rect x="1094.20" y="14" width="1.80" height="585"/>
<rect x="955" y="14" width="141" height="1.75"/>
<rect x="955" y="597.50" width="141" height="1.50"/>
</g></g>
<g id="pe"><clipPath id="ce"><rect x="1277" y="15" width="150" height="593"/></clipPath><g clip-path="url(#ce)">
<rect x="1274.40" y="12.80" width="154.90" height="597.95" fill="#fc0000"/>
<polygon fill="#fc5c00" points="1277.00,15.00 1427.00,15.00 1427.00,145.00 1415.00,125.00 1412.50,115.00 1402.50,100.00 1391.00,82.50 1385.00,70.00 1320.00,70.00 1306.00,82.50 1290.00,112.50 1277.00,147.50"/>
<polygon fill="#fcb700" points="1288.00,15.00 1283.00,40.00 1281.00,50.00 1279.00,60.00 1277.00,66.00 1277.00,123.00 1284.00,111.00 1290.00,100.00 1298.00,83.00 1305.00,72.00 1312.00,65.00 1320.00,61.00 1384.00,61.00 1388.00,63.50 1393.00,72.00 1400.00,85.00 1410.00,97.00 1414.00,100.00 1420.00,108.00 1427.00,120.00 1427.00,60.00 1425.00,40.00 1422.00,15.00"/>
<polygon fill="#e6fc00" points="1292.00,15.00 1287.00,40.00 1285.00,50.00 1283.00,60.00 1281.50,70.00 1280.00,80.00 1280.00,93.00 1286.00,92.00 1292.00,88.00 1296.00,82.00 1300.00,72.00 1306.00,63.00 1313.00,57.00 1320.00,54.50 1384.00,54.50 1390.00,57.00 1396.00,64.00 1402.00,72.00 1407.00,80.00 1412.00,85.00 1418.00,86.00 1424.00,84.00 1423.50,60.00 1421.00,35.00 1418.00,15.00"/>
<polygon fill="#8afc00" points="1295.00,15.00 1291.00,40.00 1289.00,50.00 1287.00,60.00 1285.50,70.00 1285.00,77.00 1290.00,76.00 1295.00,72.00 1299.00,65.00 1303.00,58.00 1310.00,54.00 1320.00,51.00 1384.00,51.00 1390.00,53.00 1396.00,58.00 1401.00,65.00 1406.00,72.00 1412.00,78.00 1417.00,75.00 1418.50,60.00 1417.00,40.00 1414.00,15.00"/>
<polygon fill="#2dfc00" points="1298.00,15.00 1294.00,40.00 1292.00,50.00 1291.00,58.00 1291.00,62.00 1295.00,64.00 1300.00,60.00 1304.00,54.00 1310.00,50.00 1320.00,48.00 1384.00,48.00 1392.00,49.00 1398.00,54.00 1404.00,61.00 1409.00,67.00 1413.00,61.00 1414.00,45.00 1412.00,30.00 1410.00,15.00"/>
<polygon fill="#00fc2d" points="1300.00,15.00 1301.00,30.00 1305.00,40.00 1320.00,44.00 1388.00,44.00 1396.00,42.00 1402.00,35.00 1407.00,15.00"/>
<polygon fill="#00fc8a" points="1302.00,15.00 1304.00,30.00 1308.00,36.00 1320.00,40.00 1388.00,40.00 1395.00,37.00 1400.00,30.00 1405.00,15.00"/>
<polygon fill="#00fce6" points="1305.00,15.00 1310.00,30.00 1320.00,34.00 1350.00,35.00 1388.00,35.00 1396.00,29.00 1402.00,15.00"/>
<polygon fill="#00b7fc" points="1312.00,15.00 1314.00,22.00 1320.00,27.00 1350.00,28.00 1385.00,30.00 1392.00,25.00 1398.00,15.00"/>
<polygon fill="#005cfc" points="1316.00,15.00 1320.00,20.00 1350.00,21.00 1385.00,24.00 1388.00,21.00 1392.00,15.00"/>
<polygon fill="#0000fc" points="1370.00,15.00 1386.00,15.00 1384.00,18.00 1374.00,17.50"/>
<rect x="1270.00" y="10" width="17.70" height="605" fill="#000" fill-opacity="0.067"/>
<rect x="1303.00" y="10" width="16.50" height="605" fill="#000" fill-opacity="0.028"/>
<rect x="1319.50" y="10" width="20.50" height="605" fill="#000" fill-opacity="0.080"/>
<rect x="1340.00" y="10" width="23.20" height="605" fill="#000" fill-opacity="0.127"/>
<rect x="1363.20" y="10" width="19.80" height="605" fill="#000" fill-opacity="0.294"/>
<rect x="1383.00" y="10" width="17.00" height="605" fill="#000" fill-opacity="0.325"/>
<rect x="1400.00" y="10" width="14.00" height="605" fill="#000" fill-opacity="0.365"/>
<rect x="1414.00" y="10" width="7.00" height="605" fill="#000" fill-opacity="0.413"/>
<rect x="1421.00" y="10" width="9.00" height="605" fill="#000" fill-opacity="0.484"/>
</g>
<g fill="#fff">
<rect x="1276" y="14" width="1.40" height="595"/>
<rect x="1426.30" y="14" width="1.70" height="595"/>
<rect x="1276" y="14" width="152" height="1.80"/>
<rect x="1276" y="607.75" width="152" height="1.25"/>
</g></g>
<g id="pf"><clipPath id="cf"><rect x="1607" y="15" width="80" height="589"/></clipPath><g clip-path="url(#cf)">
<rect x="1604.50" y="12.75" width="85.25" height="593.50" fill="#28db00"/>
<polygon fill="#78db00" points="1605.35,13.16 1688.68,13.16 1688.68,108.99 1655.79,120.61 1647.02,125.44 1633.86,125.00 1605.35,123.90"/>
<polygon fill="#c7db00" points="1605.35,13.16 1688.68,13.16 1688.68,53.73 1673.33,53.73 1667.19,57.02 1665.66,66.89 1655.79,73.46 1645.92,77.85 1633.86,76.75 1622.89,72.37 1614.12,65.79 1605.35,57.46"/>
<polygon fill="#db9f00" points="1605.35,13.16 1688.68,13.16 1688.68,41.67 1683.20,40.57 1681.01,36.18 1667.19,36.18 1667.19,57.46 1662.37,57.46 1655.79,59.21 1648.11,64.69 1640.44,65.79 1633.86,62.50 1625.09,55.92 1616.32,49.34 1605.35,45.39"/>
<polygon fill="#db5000" points="1605.35,13.16 1688.68,13.16 1688.68,30.70 1681.01,36.18 1667.19,36.18 1667.19,57.46 1662.37,57.46 1653.60,56.58 1645.92,54.82 1637.15,49.34 1628.38,42.76 1620.70,38.38 1614.12,32.89 1605.35,30.04"/>
<polygon fill="#db0000" points="1615.22,13.16 1685.39,13.16 1683.20,18.64 1673.33,30.70 1667.19,36.18 1667.19,56.58 1662.37,56.58 1662.37,41.67 1644.82,41.67 1637.15,36.18 1634.96,28.51 1626.18,26.32 1622.89,19.74 1615.22,15.79"/>
<polygon fill="#78db00" points="1606.25,517.00 1620.00,515.75 1640.00,515.75 1650.00,513.75 1657.50,518.75 1687.50,523.75 1687.50,605.00 1606.25,605.00"/>
<polygon fill="#c7db00" points="1606.25,568.25 1645.00,568.25 1670.00,573.75 1687.50,578.00 1687.50,605.00 1606.25,605.00"/>
<polygon fill="#db9f00" points="1606.25,585.00 1617.50,586.25 1636.25,591.25 1647.50,598.75 1670.00,600.50 1685.00,602.50 1687.50,605.00 1606.25,605.00"/>
</g>
<g fill="#fff">
<rect x="1606" y="14" width="1.50" height="591"/>
<rect x="1686.75" y="14" width="1.25" height="591"/>
<rect x="1606" y="14" width="82" height="1.75"/>
<rect x="1606" y="603.25" width="82" height="1.75"/>
</g></g>
<g id="pg"><clipPath id="cg"><rect x="1864" y="15" width="98" height="594"/></clipPath><g clip-path="url(#cg)">
<rect x="1861.25" y="12.75" width="103.50" height="599.00" fill="#28db00"/>
<polygon fill="#00db28" points="1870.10,14.62 1873.76,45.69 1881.07,73.10 1890.20,95.03 1899.34,109.65 1908.48,116.05 1923.10,116.05 1934.06,107.82 1943.20,87.72 1952.34,60.31 1957.82,36.55 1959.65,14.62"/>
<polygon fill="#00db78" points="1874.67,14.62 1880.15,45.69 1889.29,71.27 1897.51,89.55 1904.82,96.86 1923.10,97.77 1932.24,87.72 1941.37,67.62 1948.68,40.20 1952.34,14.62"/>
<polygon fill="#00dbc7" points="1879.24,14.62 1883.81,40.20 1892.03,62.13 1901.17,78.58 1906.65,84.98 1923.10,84.98 1932.24,69.44 1941.37,45.69 1946.86,14.62"/>
<polygon fill="#009fdb" points="1884.72,14.62 1889.29,36.55 1895.69,54.82 1902.08,71.27 1904.82,74.93 1923.10,74.93 1930.41,60.31 1936.81,40.20 1941.37,14.62"/>
<polygon fill="#0050db" points="1891.12,14.62 1893.86,36.55 1899.34,54.82 1903.00,64.88 1923.10,64.88 1928.58,51.17 1933.15,36.55 1934.98,14.62"/>
<polygon fill="#0000db" points="1897.51,14.62 1928.22,14.62 1928.95,32.89 1923.10,45.69 1920.36,54.82 1903.00,54.82 1900.26,45.69 1897.88,32.89"/>
<polygon fill="#78db00" points="1862.50,158.75 1872.50,150.00 1887.50,145.75 1912.50,145.75 1930.00,148.75 1947.50,156.25 1956.25,170.00 1959.50,190.00 1957.50,217.50 1952.50,240.00 1940.00,260.00 1925.00,275.00 1905.00,281.25 1885.00,276.25 1870.00,265.00 1862.50,256.25"/>
<polygon fill="#78db00" points="1862.50,534.50 1877.50,550.00 1885.00,558.75 1890.00,568.75 1902.50,580.00 1922.50,580.00 1935.00,570.00 1940.00,562.50 1947.50,553.75 1963.75,539.50 1963.75,610.00 1862.50,610.00"/>
<polygon fill="#c7db00" points="1862.50,572.50 1877.50,582.50 1885.00,588.75 1892.50,598.75 1900.00,607.50 1902.50,610.00 1862.50,610.00"/>
<polygon fill="#c7db00" points="1963.75,573.75 1950.00,582.50 1940.00,592.50 1932.50,602.50 1925.00,610.00 1963.75,610.00"/>
<polygon fill="#db9f00" points="1862.50,596.25 1870.00,602.50 1875.00,610.00 1862.50,610.00"/>
<polygon fill="#db9f00" points="1963.75,595.00 1956.25,602.50 1952.50,610.00 1963.75,610.00"/>
</g>
<g fill="#fff">
<rect x="1863" y="14" width="1.25" height="596"/>
<rect x="1961.75" y="14" width="1.25" height="596"/>
<rect x="1863" y="14" width="100" height="1.75"/>
<rect x="1863" y="608.75" width="100" height="1.25"/>
</g></g>
</svg>
</body>
</html>
